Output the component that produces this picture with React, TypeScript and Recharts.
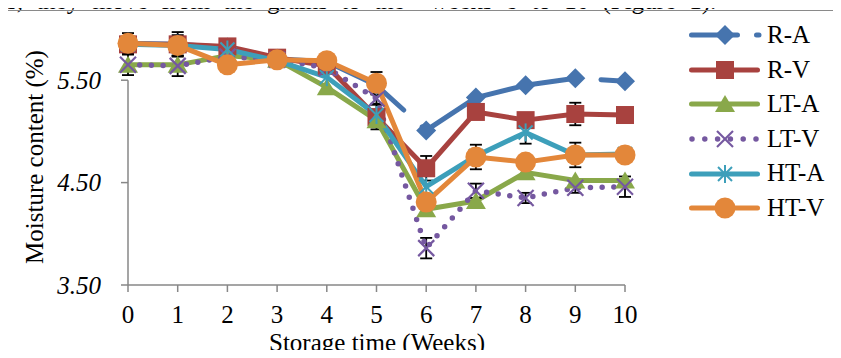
import React from 'react';
import { LineChart, Line, XAxis, YAxis, Legend, ErrorBar, ReferenceLine, Label } from 'recharts';

// storage weeks on the x axis
const WEEKS = [0, 1, 2, 3, 4, 5, 6, 7, 8, 9, 10];

// moisture content (%) per treatment
const R_A = [5.86, 5.85, 5.82, 5.71, 5.68, 5.45, 5.01, 5.33, 5.45, 5.52, 5.49];
const R_V = [5.85, 5.85, 5.83, 5.72, 5.64, 5.14, 4.64, 5.19, 5.11, 5.17, 5.16];
const LT_A = [5.65, 5.65, 5.74, 5.7, 5.43, 5.11, 4.24, 4.32, 4.6, 4.52, 4.52];
const LT_V = [5.65, 5.64, 5.73, 5.7, 5.62, 5.32, 3.86, 4.42, 4.35, 4.45, 4.46];
const HT_A = [5.85, 5.84, 5.8, 5.69, 5.53, 5.16, 4.46, 4.76, 4.99, 4.77, 4.78];
const HT_V = [5.86, 5.84, 5.65, 5.7, 5.69, 5.47, 4.31, 4.75, 4.7, 4.77, 4.77];

// error bars (only the visible ones)
const R_V_ERR = [0.05, 0.12, 0, 0, 0, 0.12, 0.12, 0.05, 0.05, 0.11, 0.05];
const LT_V_ERR = [0.1, 0.1, 0, 0, 0, 0.05, 0.1, 0.07, 0.05, 0.05, 0.1];
const HT_A_ERR = [0, 0, 0, 0, 0, 0, 0, 0, 0.11, 0, 0];
const HT_V_ERR = [0.1, 0.1, 0.03, 0.03, 0.03, 0.11, 0.05, 0.12, 0.05, 0.12, 0.05];

const Y_TICKS = [3.5, 4.5, 5.5];

const FONT = 'Liberation Serif, Tinos, DejaVu Serif, serif';
const AXIS_GREY = '#878787';

type MarkerKind = 'diamond' | 'square' | 'triangle' | 'x' | 'star' | 'circle';

interface Series {
  key: string;
  name: string;
  values: number[];
  errors?: number[];
  color: string;
  marker: MarkerKind;
  dash?: string;
  dashOffset?: number;
  dotted?: boolean;
}

const SERIES: Series[] = [
  { key: 'ra', name: 'R-A', values: R_A, color: '#4674ae', marker: 'diamond', dash: '167 25', dashOffset: 67 },
  { key: 'rv', name: 'R-V', values: R_V, errors: R_V_ERR, color: '#a8423f', marker: 'square' },
  { key: 'lta', name: 'LT-A', values: LT_A, color: '#89a84a', marker: 'triangle' },
  { key: 'ltv', name: 'LT-V', values: LT_V, errors: LT_V_ERR, color: '#7558a0', marker: 'x', dotted: true },
  { key: 'hta', name: 'HT-A', values: HT_A, errors: HT_A_ERR, color: '#3d9fba', marker: 'star' },
  { key: 'htv', name: 'HT-V', values: HT_V, errors: HT_V_ERR, color: '#e3873a', marker: 'circle' },
];

const rows = WEEKS.map((week, i) => {
  const row: Record<string, number> = { week };
  SERIES.forEach((s) => {
    row[s.key] = s.values[i];
    if (s.errors) row[s.key + 'Err'] = s.errors[i];
  });
  return row;
});

function Marker({ cx, cy, kind, color }: { cx: number; cy: number; kind: MarkerKind; color: string }) {
  if (cx == null || cy == null || isNaN(cx) || isNaN(cy)) return null;
  switch (kind) {
    case 'diamond':
      return <polygon points={`${cx},${cy - 10} ${cx + 10},${cy} ${cx},${cy + 10} ${cx - 10},${cy}`} fill={color} />;
    case 'square':
      return <rect x={cx - 9} y={cy - 9} width={18} height={18} fill={color} />;
    case 'triangle':
      return <polygon points={`${cx},${cy - 9} ${cx + 10},${cy + 8} ${cx - 10},${cy + 8}`} fill={color} />;
    case 'x':
      return (
        <g stroke={color} strokeWidth={2.2}>
          <line x1={cx - 8} y1={cy - 8} x2={cx + 8} y2={cy + 8} />
          <line x1={cx - 8} y1={cy + 8} x2={cx + 8} y2={cy - 8} />
        </g>
      );
    case 'star':
      return (
        <g stroke={color} strokeWidth={2}>
          <line x1={cx - 7} y1={cy - 7} x2={cx + 7} y2={cy + 7} />
          <line x1={cx - 7} y1={cy + 7} x2={cx + 7} y2={cy - 7} />
          <line x1={cx} y1={cy - 9} x2={cx} y2={cy + 9} />
        </g>
      );
    default:
      return <circle cx={cx} cy={cy} r={10.5} fill={color} />;
  }
}

function LegendBox() {
  return (
    <div style={{ fontFamily: FONT, fontSize: 25, color: '#000' }}>
      {SERIES.map((s) => (
        <div key={s.key} style={{ display: 'flex', alignItems: 'center', height: 34.6 }}>
          <svg width={78} height={34} style={{ display: 'block' }}>
            {s.key === 'ra' ? (
              <line x1={5.5} y1={17} x2={73} y2={17} stroke={s.color} strokeWidth={5} strokeLinecap="round" strokeDasharray="46 19" />
            ) : s.dotted ? (
              <line x1={6} y1={17} x2={72} y2={17} stroke={s.color} strokeWidth={5.5} strokeLinecap="round" strokeDasharray="0 12.8" />
            ) : (
              <line x1={5.5} y1={17} x2={71.5} y2={17} stroke={s.color} strokeWidth={5} strokeLinecap="round" />
            )}
            <Marker cx={39} cy={17} kind={s.marker} color={s.color} />
          </svg>
          <span style={{ marginLeft: 3, lineHeight: '34.6px' }}>{s.name}</span>
        </div>
      ))}
    </div>
  );
}

export default function App() {
  return (
    <div
      style={{
        position: 'relative',
        width: 841,
        height: 358,
        margin: -8,
        overflow: 'hidden',
        background: '#fff',
        fontFamily: FONT,
      }}
    >
      {/* text from the page above the figure, cut off as in the source */}
      <div
        style={{
          position: 'absolute',
          left: 0,
          top: -12,
          fontSize: 25,
          lineHeight: '25px',
          wordSpacing: 7,
          whiteSpace: 'nowrap',
          color: '#000',
        }}
      >
        <span>is, they move from the grains to the</span>
        <span style={{ position: 'absolute', left: 430 }}>weeks 8 to 10 (Figure 1).</span>
      </div>
      {/* figure frame */}
      <div
        style={{
          position: 'absolute',
          left: 7,
          top: 10,
          width: 900,
          height: 400,
          border: '1.5px solid #8a8a8a',
        }}
      />
      <div style={{ position: 'absolute', left: 0, top: 0 }}>
        <LineChart width={841} height={358} data={rows} margin={{ top: 29, right: 216, bottom: 43, left: 68 }}>
          <XAxis
            dataKey="week"
            type="number"
            domain={[0, 10]}
            ticks={WEEKS}
            interval={0}
            height={30}
            tickSize={7}
            tickMargin={13}
            axisLine={{ stroke: AXIS_GREY, strokeWidth: 1.5 }}
            tickLine={{ stroke: AXIS_GREY, strokeWidth: 1.5 }}
            tick={{ fill: '#000', fontSize: 25, fontFamily: FONT }}
            label={
              <Label
                content={() => (
                  <text x={377} y={351} textAnchor="middle" fill="#000" fontSize={25} fontFamily={FONT}>
                    Storage time (Weeks)
                  </text>
                )}
              />
            }
          />
          <YAxis
            type="number"
            domain={[3.5, 6]}
            ticks={Y_TICKS}
            interval={0}
            width={60}
            tickSize={7}
            tickMargin={20}
            axisLine={false}
            tickLine={{ stroke: AXIS_GREY, strokeWidth: 1.5 }}
            tickFormatter={(v: number) => v.toFixed(2)}
            tick={{ fill: '#000', fontSize: 25, fontFamily: FONT, fontStyle: 'italic' }}
            label={
              <Label
                content={() => (
                  <text
                    x={43}
                    y={157}
                    transform="rotate(-90 43 157)"
                    textAnchor="middle"
                    fill="#000"
                    fontSize={25}
                    fontFamily={FONT}
                  >
                    Moisture content (%)
                  </text>
                )}
              />
            }
          />
          <ReferenceLine
            segment={[
              { x: 0, y: 3.5 },
              { x: 0, y: 5.5 },
            ]}
            stroke={AXIS_GREY}
            strokeWidth={1.5}
          />
          {SERIES.map((s) => (
            <Line
              key={s.key}
              dataKey={s.key}
              name={s.name}
              type="linear"
              stroke={s.color}
              strokeWidth={s.dotted ? 5.5 : 5}
              strokeLinecap="round"
              strokeLinejoin="round"
              strokeDasharray={s.dotted ? '0 11.7' : s.dash}
              strokeDashoffset={s.dashOffset}
              isAnimationActive={false}
              activeDot={false}
              dot={(p: any) => <Marker key={`${s.key}-${p.index}`} cx={p.cx} cy={p.cy} kind={s.marker} color={s.color} />}
            >
              {s.errors && (
                <ErrorBar
                  dataKey={s.key + 'Err'}
                  direction="y"
                  width={6}
                  stroke="#000"
                  strokeWidth={1.8}
                  isAnimationActive={false}
                />
              )}
            </Line>
          ))}
          <Legend
            layout="vertical"
            align="center"
            verticalAlign="middle"
            content={() => <LegendBox />}
            wrapperStyle={{ left: 686, top: 18, width: 150 }}
          />
        </LineChart>
      </div>
    </div>
  );
}
